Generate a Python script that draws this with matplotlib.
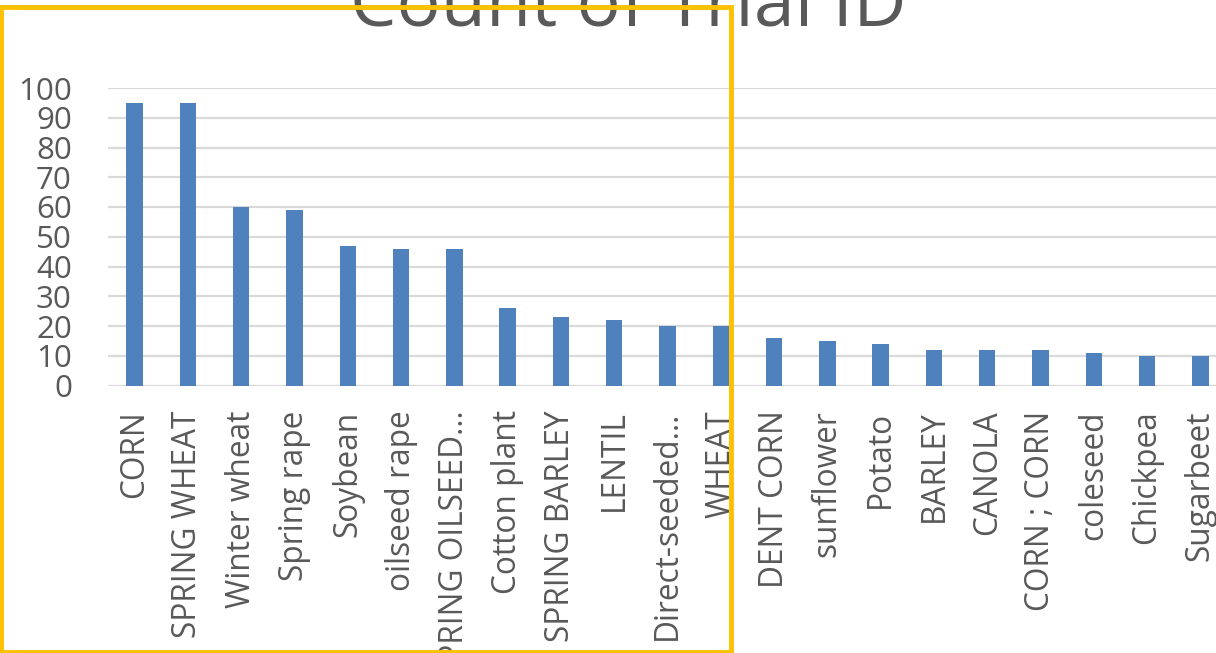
import matplotlib
matplotlib.use("Agg")
import matplotlib.pyplot as plt
from matplotlib.patches import Rectangle

# Trial counts per crop
crops = [
    "CORN", "SPRING WHEAT", "Winter wheat", "Spring rape", "Soybean",
    "oilseed rape", "SPRING OILSEED…", "Cotton plant", "SPRING BARLEY",
    "LENTIL", "Direct-seeded…", "WHEAT", "DENT CORN", "sunflower", "Potato",
    "BARLEY", "CANOLA", "CORN ; CORN", "coleseed", "Chickpea", "Sugarbeet",
]
counts = [95, 95, 60, 59, 47, 46, 46, 26, 23, 22, 20, 20, 16, 15, 14,
          12, 12, 12, 11, 10, 10]
y_ticks = list(range(0, 101, 10))
title = "Count of Trial ID"

W, H, DPI = 1216, 653, 100
TEXT = "#595959"
BAR = "#4F81BD"
GRID = "#D9D9D9"
plt.rcParams["font.family"] = ["Open Sans", "DejaVu Sans"]

fig = plt.figure(figsize=(W / DPI, H / DPI), dpi=DPI)
fig.patch.set_facecolor("white")

# plot area in pixel terms
left_px, right_px = 108, 1227
top_px, bottom_px = 88, 385.5
ax = fig.add_axes([left_px / W, 1 - bottom_px / H,
                   (right_px - left_px) / W, (bottom_px - top_px) / H])

x = list(range(len(crops)))
ax.bar(x, counts, width=0.31, color=BAR, zorder=3)
ax.set_xlim(-0.5, len(crops) - 0.5)
ax.set_ylim(0, 100)
ax.set_yticks(y_ticks)
ax.set_yticklabels([str(v) for v in y_ticks])
ax.set_xticks(x)
ax.set_xticklabels(crops, rotation=90, va="top", ha="center")
ax.yaxis.grid(True, color=GRID, linewidth=1.6, zorder=0)
ax.set_axisbelow(True)
for s in ax.spines.values():
    s.set_visible(False)
ax.tick_params(axis="both", length=0, labelsize=22.5, labelcolor=TEXT)
ax.tick_params(axis="x", pad=18, labelsize=22.8)
ax.tick_params(axis="y", pad=26)

fig.text(628 / W, 1 - 25 / H, title, ha="center", va="baseline",
         fontsize=53, color=TEXT)

# highlight frame
x0, y0, x1, y1 = 1, 6.5, 730.5, 651.5
fig.patches.append(Rectangle((x0 / W, 1 - y1 / H), (x1 - x0) / W,
                             (y1 - y0) / H, transform=fig.transFigure,
                             fill=False, edgecolor="#FFC000", linewidth=3.5,
                             zorder=10))

fig.savefig("out.png", dpi=DPI)
